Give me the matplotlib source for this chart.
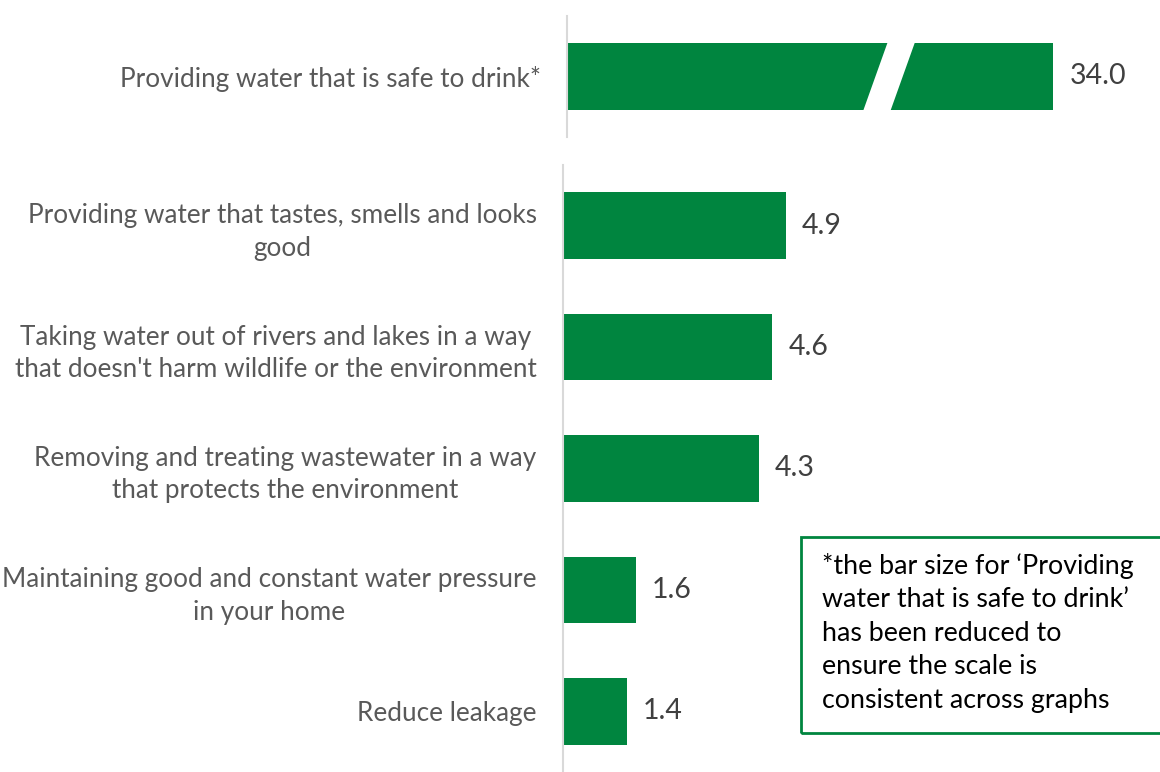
import matplotlib.pyplot as plt
from matplotlib.patches import Polygon, Rectangle

plt.rcParams['font.family'] = ['Lato', 'DejaVu Sans']

# data
top_label = "Providing water that is safe to drink*"
top_value = 34.0
top_shown = 10.68   # bar drawn shorter so the scale matches the other graphs

labels = ["Providing water that tastes, smells and looks\ngood",
          "Taking water out of rivers and lakes in a way\nthat doesn't harm wildlife or the environment",
          "Removing and treating wastewater in a way\nthat protects the environment",
          "Maintaining good and constant water pressure\nin your home",
          "Reduce leakage"]
values = [4.9, 4.6, 4.3, 1.6, 1.4]

note = ("*the bar size for \u2018Providing\nwater that is safe to drink\u2019\n"
        "has been reduced to\nensure the scale is\nconsistent across graphs")

green = "#00853F"
grey_txt = "#595959"
val_txt = "#404040"
axis_col = "#D9D9D9"

W, H = 1160, 772
fig = plt.figure(figsize=(11.6, 7.72), dpi=100)

px_per_unit = 45.5

def setup(ax, left_px):
    ax.set_xlim(0, (W - left_px) / px_per_unit)
    for s in ["top", "right", "bottom"]:
        ax.spines[s].set_visible(False)
    ax.spines["left"].set_color(axis_col)
    ax.spines["left"].set_linewidth(1.5)
    ax.set_xticks([])
    ax.tick_params(axis="y", length=0, pad=19, labelsize=18.8, labelcolor=grey_txt)

# top axis with the broken bar
ax_top = fig.add_axes([567 / W, (H - 137) / H, (W - 567) / W, 121 / H])
setup(ax_top, 567)
ax_top.barh([0], [top_shown], height=0.55, color=green)
ax_top.set_ylim(0.5, -0.5)
ax_top.set_yticks([0])
ax_top.set_yticklabels([top_label])
ax_top.text(top_shown + 0.38, 0, f"{top_value:.1f}", va="center", ha="left",
            fontsize=20.5, color=val_txt)
# white slanted gap marking the break
b0 = top_shown * 0.608
gap = 0.6
slant = 0.57
ax_top.add_patch(Polygon([(b0, 0.3), (b0 + gap, 0.3),
                          (b0 + gap + slant, -0.3), (b0 + slant, -0.3)],
                         closed=True, facecolor="white", edgecolor="none", zorder=3))

# bottom axis
ax = fig.add_axes([563 / W, 0, (W - 563) / W, (H - 165) / H])
setup(ax, 563)
y = list(range(len(values)))
ax.barh(y, values, height=0.55, color=green)
ax.set_ylim(len(values) - 0.5, -0.5)
ax.set_yticks(y)
ax.set_yticklabels(labels, multialignment="center", linespacing=1.37)
for yi, v in zip(y, values):
    ax.text(v + 0.35, yi, f"{v:.1f}", va="center", ha="left",
            fontsize=20.5, color=val_txt)

# note box
fig.patches.append(Rectangle((801 / W, (H - 733) / H), 400 / W, 196 / H,
                             transform=fig.transFigure, fill=False,
                             edgecolor=green, linewidth=2))
fig.text(822 / W, (H - 553) / H, note, ha="left", va="top", fontsize=19.3,
         color="black", linespacing=1.42)

fig.savefig("out.png", dpi=100)
